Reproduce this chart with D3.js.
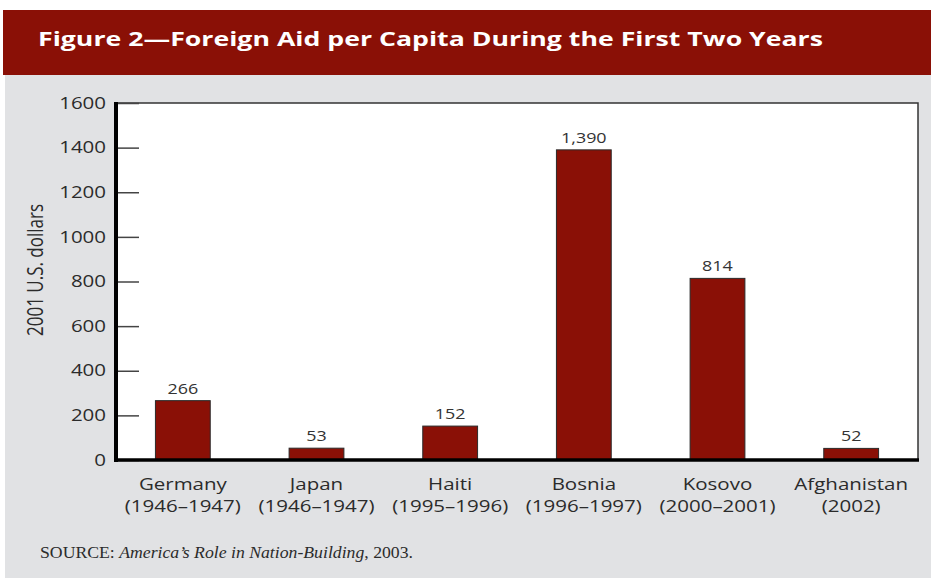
<!DOCTYPE html>
<html>
<head>
<meta charset="utf-8">
<script src="https://cdn.jsdelivr.net/npm/d3@7"></script>
<style>
  body { margin: 0; background: #fff; }
  svg { display: block; font-family: "Open Sans", "Noto Sans", sans-serif; }
</style>
</head>
<body>
<svg id="chart"></svg>
<script>
// data
var countries = ["Germany", "Japan", "Haiti", "Bosnia", "Kosovo", "Afghanistan"];
var periods = ["(1946\u20131947)", "(1946\u20131947)", "(1995\u20131996)", "(1996\u20131997)", "(2000\u20132001)", "(2002)"];
var aid = [266, 53, 152, 1390, 814, 52];
var aidLabels = ["266", "53", "152", "1,390", "814", "52"];
var yTicks = [0, 200, 400, 600, 800, 1000, 1200, 1400, 1600];

var W = 931, H = 578;
var red = "#8a1006";
var K = 1.28; // horizontal stretch of the text in the scanned figure

// widen glyphs a bit, like the source picture
function stretch(sel, k) {
  sel.each(function () {
    var w = this.getComputedTextLength();
    d3.select(this).attr("textLength", w * k).attr("lengthAdjust", "spacingAndGlyphs");
  });
}

var svg = d3.select("#chart").attr("width", W).attr("height", H);

// background panels
svg.append("rect").attr("x", 5).attr("y", 75).attr("width", W - 5).attr("height", H - 75).attr("fill", "#e1e2e4");
svg.append("rect").attr("x", 3).attr("y", 10).attr("width", W - 3).attr("height", 65).attr("fill", red);

var title = svg.append("text")
  .attr("x", 38).attr("y", 46)
  .attr("fill", "#fff")
  .attr("font-size", 20).attr("font-weight", "bold")
  .text("Figure 2\u2014Foreign Aid per Capita During the First Two Years");
title.attr("textLength", 785).attr("lengthAdjust", "spacingAndGlyphs");

// plot area
var pLeft = 116, pRight = 918, pTop = 103, pBottom = 460;

var x = d3.scaleBand().domain(countries).range([pLeft, pRight])
  .paddingInner(0.59).paddingOuter(0.295);
var y = d3.scaleLinear().domain([0, 1600]).range([pBottom, pTop]);

svg.append("rect").attr("x", pLeft).attr("y", pTop)
  .attr("width", pRight - pLeft).attr("height", pBottom - pTop)
  .attr("fill", "#fff").attr("stroke", "#333").attr("stroke-width", 1.5);

var yAxis = svg.append("g")
  .attr("transform", "translate(" + pLeft + ",0)")
  .call(d3.axisLeft(y).tickValues(yTicks).tickSize(-23).tickPadding(10).tickFormat(d3.format("d")));
yAxis.select(".domain").remove();
yAxis.selectAll(".tick line").attr("stroke", "#444").attr("stroke-width", 1.5);
yAxis.selectAll(".tick text").attr("font-size", 16).attr("fill", "#2b2b2b")
  .attr("font-family", "'Open Sans', sans-serif");
stretch(yAxis.selectAll(".tick text"), K);

// rotated title, glyphs widened across like the other text
svg.append("text")
  .attr("transform", "translate(43,270) rotate(-90) scale(1," + K + ")")
  .attr("text-anchor", "middle")
  .attr("font-size", 17).attr("fill", "#2b2b2b")
  .text("2001 U.S. dollars");

// bars
svg.selectAll(".bar")
  .data(aid)
  .enter()
  .append("rect")
  .attr("class", "bar")
  .attr("x", function (d, i) { return x(countries[i]); })
  .attr("y", function (d) { return y(d); })
  .attr("width", x.bandwidth())
  .attr("height", function (d) { return pBottom - y(d); })
  .attr("fill", red)
  .attr("stroke", "#2a2a2a").attr("stroke-width", 1);

var vals = svg.selectAll(".val")
  .data(aid)
  .enter()
  .append("text")
  .attr("class", "val")
  .attr("x", function (d, i) { return x(countries[i]) + x.bandwidth() / 2; })
  .attr("y", function (d) { return y(d) - 7; })
  .attr("text-anchor", "middle")
  .attr("font-size", 14).attr("fill", "#333")
  .text(function (d, i) { return aidLabels[i]; });
stretch(vals, K);

// axis lines
svg.append("line").attr("x1", pLeft).attr("x2", pLeft).attr("y1", pTop - 1).attr("y2", pBottom + 2)
  .attr("stroke", "#000").attr("stroke-width", 4);
svg.append("line").attr("x1", pLeft - 2).attr("x2", pRight + 1).attr("y1", pBottom).attr("y2", pBottom)
  .attr("stroke", "#000").attr("stroke-width", 3.5);

// category labels
var cat = svg.selectAll(".cat")
  .data(countries)
  .enter()
  .append("g")
  .attr("class", "cat")
  .attr("transform", function (d) { return "translate(" + (x(d) + x.bandwidth() / 2) + ",0)"; });
var l1 = cat.append("text").attr("y", 490).attr("text-anchor", "middle")
  .attr("font-size", 16).attr("fill", "#2b2b2b").text(function (d) { return d; });
var l2 = cat.append("text").attr("y", 512).attr("text-anchor", "middle")
  .attr("font-size", 16).attr("fill", "#2b2b2b").text(function (d, i) { return periods[i]; });
stretch(l1, K);
stretch(l2, K);

// source note
var src = svg.append("text")
  .attr("x", 40).attr("y", 558)
  .style("font-family", "'Liberation Serif', 'DejaVu Serif', serif")
  .attr("font-size", 16).attr("fill", "#2b2b2b");
src.append("tspan").text("SOURCE: ");
src.append("tspan").attr("font-style", "italic").text("America\u2019s Role in Nation-Building");
src.append("tspan").text(", 2003.");
src.attr("textLength", 373).attr("lengthAdjust", "spacingAndGlyphs");
</script>
</body>
</html>
